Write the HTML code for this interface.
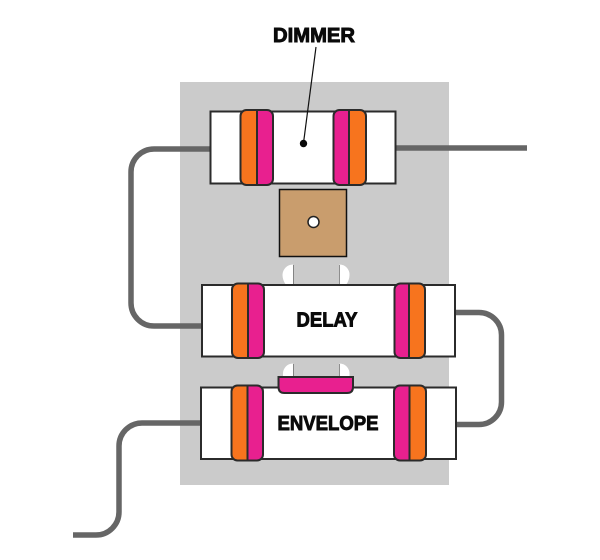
<!DOCTYPE html>
<html>
<head>
<meta charset="utf-8">
<style>
html,body{margin:0;padding:0;background:#fff;width:600px;height:560px;overflow:hidden}
svg{display:block}
text{font-family:"Liberation Sans",sans-serif;font-weight:bold;fill:#0a0a0a;stroke:#0a0a0a;stroke-width:.9}
</style>
</head>
<body>
<svg width="600" height="560" viewBox="0 0 600 560" xmlns="http://www.w3.org/2000/svg">
<defs>
<clipPath id="c1"><rect x="240" y="110" width="33" height="75" rx="6"/></clipPath>
<clipPath id="c2"><rect x="333" y="110" width="33" height="75" rx="6"/></clipPath>
<clipPath id="c3"><rect x="231.500" y="283.500" width="32.500" height="74.500" rx="6"/></clipPath>
<clipPath id="c4"><rect x="394" y="283.500" width="31" height="74.500" rx="6"/></clipPath>
<clipPath id="c5"><rect x="231" y="385.500" width="32" height="75" rx="6"/></clipPath>
<clipPath id="c6"><rect x="393.500" y="385.500" width="32.500" height="75" rx="6"/></clipPath>
</defs>

<rect x="180" y="82" width="269" height="403" fill="#cbcbcb"/>

<g fill="none" stroke="#666666" stroke-width="5.500">
<path d="M396 148H527"/>
<path d="M211 149H154A23 23 0 0 0 131 172V303A23 23 0 0 0 154 326H202"/>
<path d="M456 312.500H479A22.500 22.500 0 0 1 501.500 335V402A22.500 22.500 0 0 1 479 424.500H456"/>
<path d="M201 423H142A23 23 0 0 0 119 446V512A23 23 0 0 1 96 535H73"/>
</g>

<!-- Dimmer -->
<rect x="210.500" y="111.500" width="185" height="72" fill="#fff" stroke="#2b2b2b" stroke-width="2"/>
<g clip-path="url(#c1)"><rect x="240" y="110" width="17" height="75" fill="#f7741e"/><rect x="257" y="110" width="16" height="75" fill="#e8208f"/></g>
<path d="M257 110V185" stroke="#2b2b2b" stroke-width="2"/>
<rect x="240.500" y="110" width="32.500" height="75" rx="6" fill="none" stroke="#2b2b2b" stroke-width="2"/>
<g clip-path="url(#c2)"><rect x="333" y="110" width="16" height="75" fill="#e8208f"/><rect x="349" y="110" width="17" height="75" fill="#f7741e"/></g>
<path d="M349 110V185" stroke="#2b2b2b" stroke-width="2"/>
<rect x="333.500" y="110" width="32.500" height="75" rx="6" fill="none" stroke="#2b2b2b" stroke-width="2"/>
<path d="M316 47L303.500 143" stroke="#111" stroke-width="1.200" fill="none"/>
<circle cx="303.500" cy="143.500" r="3.700" fill="#0a0a0a"/>
<text x="314" y="42" font-size="20" text-anchor="middle" textLength="82" lengthAdjust="spacingAndGlyphs">DIMMER</text>

<!-- Brown square -->
<rect x="279.500" y="189.500" width="67" height="67" fill="#c99d6d" stroke="#111" stroke-width="1.500"/>
<circle cx="313.500" cy="222" r="5.500" fill="#fff" stroke="#222" stroke-width="1.500"/>

<!-- White tabs -->
<g fill="#fff">
<path d="M293 264.500A10.500 10.500 0 0 0 282.500 275Q282.500 280 286 285H293Z"/>
<path d="M339.500 264.500A10 10 0 0 1 349.500 275Q349.500 280 346 285H339.500Z"/>
<path d="M293 363.500A10 10 0 0 0 283 374V378H293Z"/>
<path d="M339.500 363.500A10 10 0 0 1 349.500 374V378H339.500Z"/>
</g>
<path d="M293.500 265V285M339.500 265V285M293.500 364V378M339.500 364V378" stroke="#555" stroke-width=".6" fill="none"/>

<!-- Delay -->
<rect x="202" y="285" width="253" height="71.500" fill="#fff" stroke="#2b2b2b" stroke-width="2"/>
<g clip-path="url(#c3)"><rect x="231.500" y="283" width="16.500" height="75" fill="#f7741e"/><rect x="248" y="283" width="16" height="75" fill="#e8208f"/></g>
<path d="M248 283.500V358" stroke="#2b2b2b" stroke-width="2"/>
<rect x="232" y="283.500" width="32" height="74.500" rx="6" fill="none" stroke="#2b2b2b" stroke-width="2"/>
<g clip-path="url(#c4)"><rect x="394" y="283" width="15" height="75" fill="#e8208f"/><rect x="409" y="283" width="16" height="75" fill="#f7741e"/></g>
<path d="M409 283.500V358" stroke="#2b2b2b" stroke-width="2"/>
<rect x="394.500" y="283.500" width="30.500" height="74.500" rx="6" fill="none" stroke="#2b2b2b" stroke-width="2"/>
<text x="327" y="326.500" font-size="20.500" text-anchor="middle" textLength="61" lengthAdjust="spacingAndGlyphs">DELAY</text>

<!-- Envelope -->
<rect x="201" y="387.500" width="255" height="71.500" fill="#fff" stroke="#2b2b2b" stroke-width="2"/>
<g clip-path="url(#c5)"><rect x="231" y="385" width="16.500" height="76" fill="#f7741e"/><rect x="247.500" y="385" width="15.500" height="76" fill="#e8208f"/></g>
<path d="M247.500 385.500V460.500" stroke="#2b2b2b" stroke-width="2"/>
<rect x="231.500" y="385.500" width="31.500" height="75" rx="6" fill="none" stroke="#2b2b2b" stroke-width="2"/>
<g clip-path="url(#c6)"><rect x="393.500" y="385" width="16" height="76" fill="#e8208f"/><rect x="409.500" y="385" width="16.500" height="76" fill="#f7741e"/></g>
<path d="M409.500 385.500V460.500" stroke="#2b2b2b" stroke-width="2"/>
<rect x="394" y="385.500" width="32" height="75" rx="6" fill="none" stroke="#2b2b2b" stroke-width="2"/>
<text x="328" y="430" font-size="20.500" text-anchor="middle" textLength="101" lengthAdjust="spacingAndGlyphs">ENVELOPE</text>

<!-- Pink tab -->
<path d="M278.500 377H353V387Q353 393 347 393H284.500Q278.500 393 278.500 387Z" fill="#e8208f" stroke="#2b2b2b" stroke-width="2"/>
</svg>
</body>
</html>
